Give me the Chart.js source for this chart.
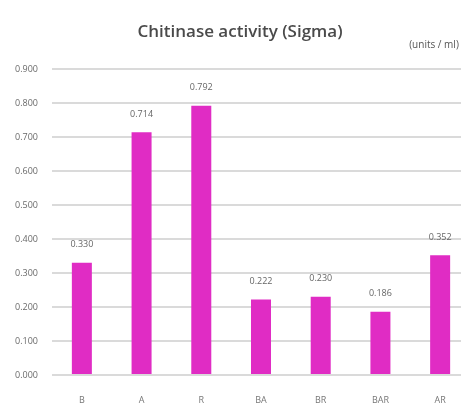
<!DOCTYPE html>
<html>
<head>
<meta charset="utf-8">
<script src="https://cdn.jsdelivr.net/npm/chart.js@4/dist/chart.umd.min.js"></script>
<style>
  html, body { margin: 0; padding: 0; background: #fff; overflow: hidden; }
  #wrap { width: 461px; height: 412px; overflow: hidden; position: relative; }
  #box { width: 475px; height: 412px; position: absolute; left: 0; top: 0; }
</style>
</head>
<body>
<div id="wrap"><div id="box"><canvas id="c"></canvas></div></div>
<script>
// Chitinase activity per treatment group
const groups = ['B', 'A', 'R', 'BA', 'BR', 'BAR', 'AR'];
const activity = [0.330, 0.714, 0.792, 0.222, 0.230, 0.186, 0.352];
const chartTitle = 'Chitinase activity (Sigma)';
const unitLabel = '(units / ml)';

const FONT = "'Open Sans', 'Noto Sans', sans-serif";

// title, unit note and the value printed above each bar
const annotate = {
  id: 'annotate',
  afterDatasetsDraw(chart) {
    const ctx = chart.ctx;
    ctx.save();
    ctx.fillStyle = '#4a4a4a';
    ctx.textAlign = 'center';
    ctx.textBaseline = 'middle';
    ctx.font = '600 17px ' + FONT;
    ctx.fillText(chartTitle, 240, 32);
    ctx.fillStyle = '#555';
    ctx.font = '10px ' + FONT;
    ctx.fillText(unitLabel, 434, 45);

    ctx.fillStyle = '#666';
    ctx.font = '9px ' + FONT;
    const meta = chart.getDatasetMeta(0);
    meta.data.forEach((bar, i) => {
      ctx.fillText(activity[i].toFixed(3), bar.x, bar.y - 18);
    });
    ctx.restore();
  }
};

new Chart(document.getElementById('c'), {
  type: 'bar',
  data: {
    labels: groups,
    datasets: [{
      data: activity,
      backgroundColor: '#e02cc4',
      borderWidth: 0,
      barPercentage: 0.67,
      categoryPercentage: 0.5
    }]
  },
  options: {
    responsive: true,
    maintainAspectRatio: false,
    animation: false,
    layout: { padding: { top: 69, left: 6, right: 5, bottom: 0 } },
    plugins: {
      legend: { display: false },
      tooltip: { enabled: false },
      title: { display: false }
    },
    scales: {
      x: {
        grid: { display: false, drawTicks: false },
        border: { display: false },
        ticks: { color: '#777', font: { family: FONT, size: 9 }, padding: 20 },
        afterFit: (s) => { s.height = 37; }
      },
      y: {
        min: 0,
        max: 0.9,
        grid: { color: '#dadada', lineWidth: 2, drawTicks: false },
        border: { display: false },
        ticks: {
          stepSize: 0.1,
          color: '#6a6a6a',
          font: { family: FONT, size: 9 },
          padding: 14,
          callback: (v) => Number(v).toFixed(3)
        },
        afterFit: (s) => { s.width = 46; }
      }
    }
  },
  plugins: [annotate]
});
</script>
</body>
</html>
